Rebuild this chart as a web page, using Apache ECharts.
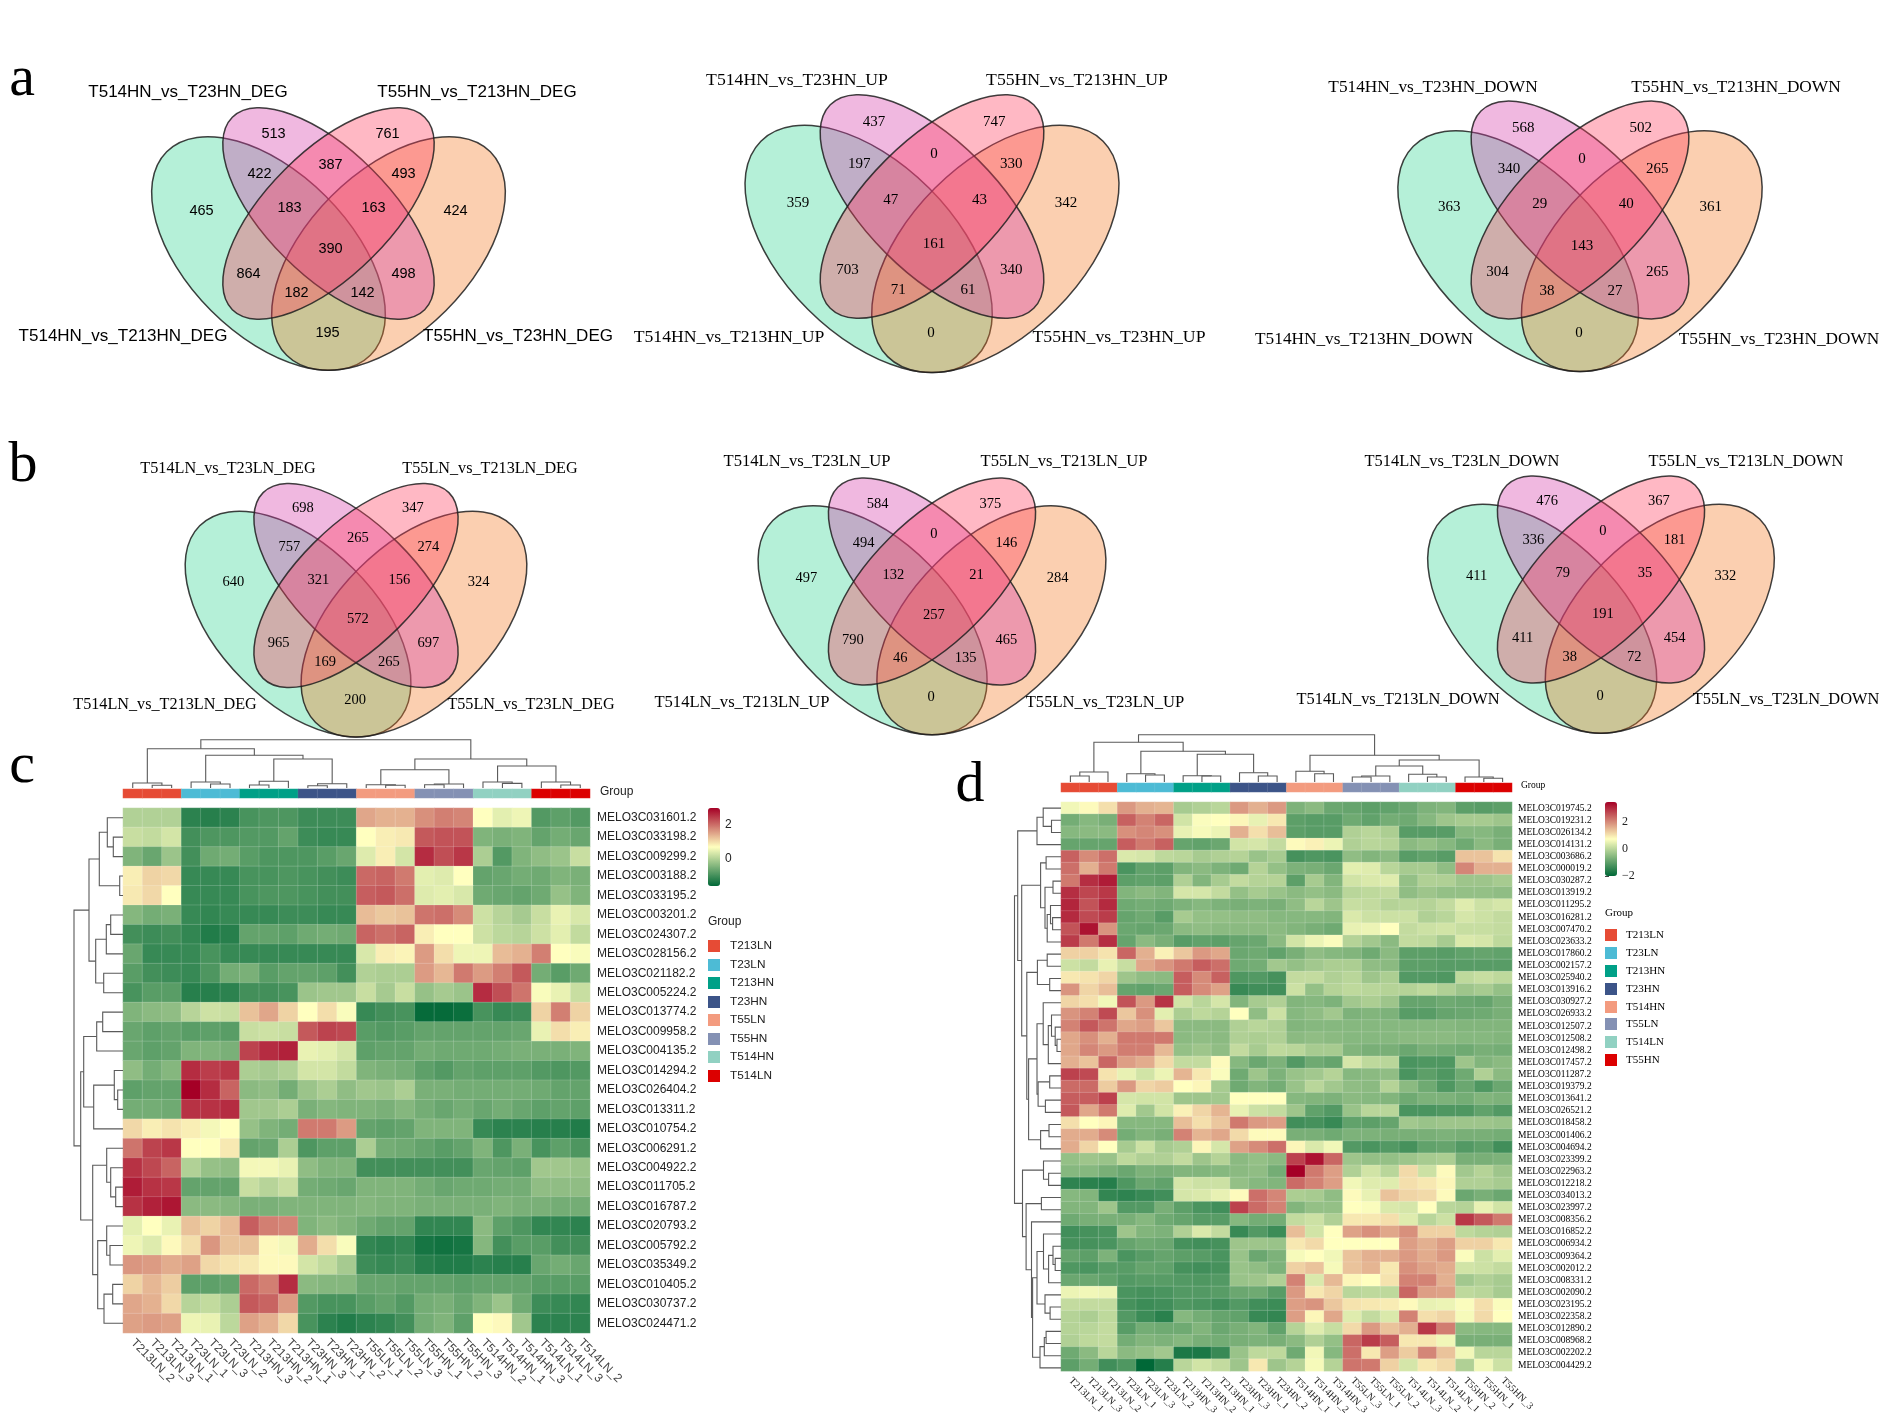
<!DOCTYPE html>
<html><head><meta charset="utf-8">
<script src="https://cdn.jsdelivr.net/npm/echarts@6/dist/echarts.min.js"></script>
<style>html,body{margin:0;padding:0;background:#fff}#c{width:1890px;height:1417px}</style></head>
<body><div id="c"></div>
<script>
// ---------- Venn counts (same region order in each list) ----------
const a1Counts=[465,513,761,424,422,387,493,183,163,390,864,498,182,142,195];
const a2Counts=[359,437,747,342,197,0,330,47,43,161,703,340,71,61,0];
const a3Counts=[363,568,502,361,340,0,265,29,40,143,304,265,38,27,0];
const b1Counts=[640,698,347,324,757,265,274,321,156,572,965,697,169,265,200];
const b2Counts=[497,584,375,284,494,0,146,132,21,257,790,465,46,135,0];
const b3Counts=[411,476,367,332,336,0,181,79,35,191,411,454,38,72,0];
const a1Names=['T514HN_vs_T23HN_DEG','T55HN_vs_T213HN_DEG','T514HN_vs_T213HN_DEG','T55HN_vs_T23HN_DEG'];
const a2Names=['T514HN_vs_T23HN_UP','T55HN_vs_T213HN_UP','T514HN_vs_T213HN_UP','T55HN_vs_T23HN_UP'];
const a3Names=['T514HN_vs_T23HN_DOWN','T55HN_vs_T213HN_DOWN','T514HN_vs_T213HN_DOWN','T55HN_vs_T23HN_DOWN'];
const b1Names=['T514LN_vs_T23LN_DEG','T55LN_vs_T213LN_DEG','T514LN_vs_T213LN_DEG','T55LN_vs_T23LN_DEG'];
const b2Names=['T514LN_vs_T23LN_UP','T55LN_vs_T213LN_UP','T514LN_vs_T213LN_UP','T55LN_vs_T23LN_UP'];
const b3Names=['T514LN_vs_T23LN_DOWN','T55LN_vs_T213LN_DOWN','T514LN_vs_T213LN_DOWN','T55LN_vs_T23LN_DOWN'];

// ---------- Heatmap c ----------
const cGenes=['031601','033198','009299','003188','033195','003201','024307','028156','021182','005224','013774','009958','004135','014294','026404','013311','010754','006291','004922','011705','016787','020793','005792','035349','010405','030737','024471'];
const cSamples=['T213LN_2','T213LN_3','T213LN_1','T23LN_1','T23LN_3','T23LN_2','T213HN_3','T213HN_2','T213HN_1','T23HN_3','T23HN_1','T23HN_2','T55LN_1','T55LN_2','T55LN_3','T55HN_1','T55HN_2','T55HN_3','T514HN_2','T514HN_1','T514HN_3','T514LN_1','T514LN_3','T514LN_2'];
const cGroups=['T213LN','T23LN','T213HN','T23HN','T55LN','T55HN','T514HN','T514LN'];
const cColors=['#E64B35','#4DBBD5','#00A087','#3C5488','#F39B7F','#8491B4','#91D1C2','#DC0000'];
const cMatrix=[
[0,0,0,-1.2,-1.25,-1.2,-.95,-.9,-.9,-1.05,-1.05,-1.05,1.5,1.4,1.4,1.7,1.85,1.8,.7,.45,.55,-.85,-.75,-.85],
[.2,.15,.3,-1,-.9,-.9,-.85,-.85,-.7,-1.05,-1.1,-1.1,.7,.85,.9,2.2,2.25,2.25,-.45,-.5,-.45,-.7,-.55,-.65],
[-.45,-.65,-.2,-1,-.6,-.55,-.8,-.9,-.9,-.9,-.8,-.65,.4,.85,.3,2.6,2.3,2.5,-.05,-.85,-.45,-.3,-.2,.2],
[.85,1.1,1.05,-1.1,-1.1,-1.1,-.95,-.95,-.9,-.95,-1,-1.05,2.05,2.1,1.9,.45,.4,.7,-.7,-.65,-.55,-.6,-.45,-.5],
[.9,1.05,.7,-1.1,-1.1,-1.1,-.95,-.9,-.9,-.95,-1,-1,2.15,2.2,2,.4,.45,.35,-.6,-.65,-.7,-.6,-.25,-.45],
[-.4,-.55,-.5,-1.1,-1.15,-1.1,-1.1,-1.1,-1.05,-1.05,-1.1,-1.1,1.3,1.2,1.25,1.95,2,1.75,.25,.05,-.1,.2,.5,.35],
[-1,-1.05,-1,-1.15,-1.3,-1.25,-.7,-.7,-.75,-.6,-.55,-.6,2.1,2,2.1,.85,.7,.7,.25,.1,.05,.25,.45,.15],
[-.65,-1.1,-1.1,-1.1,-.95,-1.1,-1.1,-1.1,-1.1,-1.1,-1.1,-1.1,.35,.85,.8,1.6,1,.55,.55,1.3,1.4,1.85,.7,.65],
[-.8,-1,-1.05,-1.1,-.9,-.55,-.5,-.8,-.7,-.7,-.75,-1,0,-.05,-.05,1.6,1.35,1.9,1.6,1.85,2.2,-.55,-.8,-.6],
[-.95,-.8,-.8,-1.25,-1.25,-1.2,-1,-1,-.95,-.2,-.15,-.15,.2,-.1,.2,-.25,-.1,-.2,2.6,2.3,1.95,.65,.5,.2],
[-.45,-.35,-.3,.05,.25,.2,1.25,1.5,1.1,.7,1,.65,-1.1,-1,-.95,-1.55,-1.55,-1.5,-.95,-1.1,-1.05,1.1,1.85,1.1],
[-.65,-.75,-.7,-.8,-.75,-.8,.2,.25,.2,2.2,2.4,2.35,-.8,-.85,-.8,-.7,-.7,-.7,-.7,-.7,-.65,.5,1,.85],
[-.65,-.75,-.7,-.45,-.45,-.5,2.4,2.6,2.7,.5,.45,.3,-.75,-.7,-.7,-.55,-.6,-.6,-.6,-.55,-.5,-.5,-.5,-.45],
[-.3,-.55,-.4,2.6,2.45,2.5,-.05,-.1,0,.3,.3,.15,-.45,-.5,-.55,-.75,-.85,-.7,-.75,-.75,-.75,-.85,-.9,-.85],
[-.75,-.7,-.7,3,2.6,2.1,-.35,-.3,-.55,-.2,-.05,-.3,-.15,-.2,-.05,-.5,-.5,-.55,-.55,-.55,-.55,-.6,-.7,-.7],
[-.55,-.55,-.6,2.55,2.55,2.6,-.15,-.15,-.05,-.5,-.4,-.45,-.45,-.5,-.4,-.55,-.65,-.55,-.65,-.55,-.65,-.75,-.7,-.75],
[1.05,.85,.95,.85,.6,.7,-.25,-.45,-.55,1.9,1.9,1.6,-.7,-.75,-.7,-.45,-.45,-.45,-1.1,-1.2,-1.2,-1.25,-1.25,-1.3],
[1.95,2.4,2.5,.7,.7,.9,-.7,-.65,-.05,-.9,-.75,-.75,-.05,-.55,-.6,-.7,-.8,-.7,-.45,-.9,-.5,-.95,-.75,-.9],
[2.55,2.35,2.1,0,-.25,-.3,.6,.6,.5,-.3,-.45,-.45,-1,-1,-1,-1,-1,-1,-.65,-.7,-.75,-.15,-.15,-.2],
[2.75,2.55,2.5,-.7,-.7,-.7,.2,.05,.2,-.55,-.6,-.65,-.45,-.45,-.45,-.55,-.65,-.6,-.6,-.55,-.55,-.3,-.3,-.3],
[2.55,2.7,2.8,-.35,-.35,-.4,-.5,-.5,-.45,-.45,-.45,-.45,-.4,-.45,-.45,-.5,-.5,-.5,-.5,-.45,-.5,-.5,-.55,-.55],
[.45,.7,.5,1.25,1.1,1.3,2.15,1.85,1.8,-.45,-.35,-.45,-.6,-.7,-.7,-1.15,-1.15,-1.15,-.35,-.75,-.9,-1.15,-1.15,-1.2],
[.55,.4,.75,1,1.65,1.25,1.25,.75,.6,1.45,1,.65,-1.15,-1.2,-1.15,-1.4,-1.45,-1.4,-.4,-1,-.8,-.8,-1,-1],
[1.65,1.6,1.45,1.55,1.05,.95,.9,.75,.75,.3,.15,-.1,-1.05,-1.1,-1.05,-1.25,-1.3,-1.3,-1.2,-1.25,-1.25,-.65,-.55,-.65],
[1.1,1.35,1.15,-.75,-.75,-.7,2.05,1.85,2.6,-.35,-.4,-.4,-.65,-.65,-.7,-.7,-.7,-.75,-.7,-.7,-.7,-.8,-.8,-.8],
[1.5,1.4,1.05,.05,.15,-.05,2.2,2.1,1.6,-.85,-.95,-.95,-.8,-.7,-.85,-.55,-.5,-.65,-.45,-.2,-.6,-1.05,-1.1,-1.15],
[1.55,1.6,1.55,.55,.5,.1,1.55,1.4,1.05,-.95,-1.2,-1.3,-1.2,-1.15,-1,-.55,-.45,-.75,.7,.75,-.15,-1.2,-1.2,-1.2]
];
const cTopTree=[48.3,[39.3,[5,0,[2.7,1,2]],[32.7,[6,3,[4,4,5]],[29,[6.7,[3,6,7],8],[4.3,[2.3,9,10],11]]]],[29,[18.3,[3.3,12,[2.7,13,14]],[4,[3.3,15,16],17]],[22,[6,18,[4.6,19,20]],[6,21,[3,22,23]]]]];
const cLeftTree=[49,[34,[23.7,[15.7,0,[9.7,1,2]],[3.3,3,4]],[27.3,[16.7,[12.3,5,6],7],[19.3,8,9]]],[42.3,[39.3,[26.3,[20.3,10,11],12],[29.3,[8.7,13,[5.3,14,15]],16]],[30.3,[16.3,17,[12.3,18,[7.3,19,20]]],[25.3,[16.3,21,[13,22,23]],[19,[10.3,24,25],26]]]]];

// ---------- Heatmap d ----------
const dGenes=['019745','019231','026134','014131','003686','000019','030287','013919','011295','016281','007470','023633','017860','002157','025940','013916','030927','026933','012507','012508','012498','017457','011287','019379','013641','026521','018458','001406','004694','023399','022963','012218','034013','023997','008356','016852','006934','009364','002012','008331','002090','023195','022358','012890','008968','002202','004429'];
const dSamples=['T213LN_1','T213LN_3','T213LN_2','T23LN_1','T23LN_3','T23LN_2','T213HN_3','T213HN_2','T213HN_1','T23HN_3','T23HN_1','T23HN_2','T514HN_1','T514HN_2','T514HN_3','T55LN_3','T55LN_1','T55LN_2','T514LN_3','T514LN_2','T514LN_1','T55HN_2','T55HN_1','T55HN_3'];
const dGroups=['T213LN','T23LN','T213HN','T23HN','T514HN','T55LN','T514LN','T55HN'];
const dMatrix=[
[.6,.8,1.1,1.85,1.6,1.55,-.2,-.1,0,1.85,1.6,1.85,-.65,-.5,-.85,-.9,-1,-.95,-.85,-.65,-.6,-1,-1.05,-1],
[-.75,-.55,-.7,2.45,2.1,2.4,.25,.7,.75,.85,.5,1,-1,-1.05,-1.05,-.8,-.95,-.75,-.8,-.55,-.3,-.2,-.2,-.3],
[-.55,-.5,-.5,1.95,2.05,1.95,.5,.65,.55,1.6,1.1,1.45,-1,-1.05,-1.05,-.1,0,-.15,-1.05,-1.05,-1.05,-.55,-.55,-.7],
[-.9,-.9,-.9,2.5,2.2,2.45,-.9,-.95,-.85,.25,.3,.1,.8,.9,.55,-.1,0,-.05,-.5,-.4,-.55,-.8,-.5,-.7],
[2.45,2,2.3,.35,.3,.05,0,-.2,-.1,-.05,-.35,-.2,-1.25,-1.15,-1.2,-.45,-.6,-.5,-1.05,-.95,-1.05,1.4,1.4,1.05],
[2.3,1.6,2.2,-1.2,-.95,-1,-.6,-.5,-.65,-.8,-.05,-.4,-.65,-.7,-.85,.45,.4,0,-.2,-.2,-.45,2.05,1.6,1.6],
[2.2,3,3.2,-1,-.95,-1,-.1,-.6,-.2,.1,-.05,-.05,-1,-.2,-.6,.25,.35,.4,-.4,-.1,-.1,-.3,-.3,-.2],
[3,2.75,2.9,-.6,-.5,-.6,.3,.3,.1,-.4,-.2,-.35,-.5,-.4,-.5,0,.05,.1,-.45,-.3,-.4,-.4,-.4,-.45],
[3.1,2.6,3.05,-.8,-.75,-.8,-.65,-.55,-.65,-.7,-.65,-.7,-.45,0,-.3,.15,.1,-.05,0,-.05,.1,.4,.2,.3],
[3.05,2.7,2.85,-.9,-.8,-1.05,-.2,-.4,-.4,-.45,-.45,-.55,-.55,-.55,-.6,.35,.2,.2,.2,-.1,0,.3,.2,.1],
[2.6,3.3,1.9,-.85,-.9,-.85,-.5,-.45,-.5,-.5,-.5,-.5,-.6,-.7,-.8,.5,.55,.75,.1,.2,.25,.15,.15,.1],
[2.85,2.2,3,-.9,-.5,-.7,-1.05,-.95,-1,-.9,-.85,-.5,.25,.55,.7,-.05,-.25,-.5,.1,.05,-.2,.35,.3,.05],
[1.25,1.25,1.05,2.4,1.6,.9,1.35,1.85,1.7,-.85,-.8,-.95,-.7,-.45,-.55,-.6,-.8,-.5,-1,-1,-1.05,-.95,-.9,-.95],
[.2,.1,.5,.15,1.7,1.9,2.2,2.5,2.3,-.8,-.75,-.25,-.4,-.25,-.15,-.15,-.45,-.5,-1,-1,-1.05,-1.05,-1.05,-1.05],
[1,1.05,1.2,-.3,-.45,-.5,2.5,2,2.45,-1.15,-1.1,-1.25,.1,.1,-.1,0,-.3,-.15,-1.1,-1.1,-1.15,.05,.15,.05],
[1.9,1.2,1.45,-.9,-.95,-.85,2.5,2,1.75,-1.4,-1.3,-1.3,.2,-.4,-.05,.05,0,-.05,-.05,.05,-.1,-.3,-.2,-.4],
[1.2,1.1,.6,2.6,1.85,2.95,.25,0,.3,-.6,-.2,-.1,-.6,-.55,-.65,-.25,-.15,-.3,-.9,-.9,-.8,-.85,-.9,-.7],
[1.9,2.1,2.7,1.35,1.95,.45,-.15,.05,-.05,.75,-.45,.2,-.55,-.45,-.25,-.65,-.6,-.65,-1.05,-1.05,-.9,-.85,-.8,-.7],
[2.1,2.55,2.25,1.7,1.8,1.35,-.5,-.5,-.5,-.1,0,-.1,-.6,-.55,-.55,-.55,-.55,-.55,-.55,-.55,-.55,-.6,-.6,-.6],
[1.7,1.95,1.6,2.2,2.2,2.2,-.5,-.45,-.5,-.1,-.15,-.1,-.5,-.45,-.5,-.55,-.55,-.55,-.5,-.5,-.5,-.55,-.55,-.6],
[1.7,2.05,1.85,2.15,2.15,1.5,-.4,-.3,-.45,.1,-.2,.05,0,-.2,-.2,-.6,-.7,-.7,-.85,-.7,-.75,-.8,-.7,-.75],
[1.6,1.4,2.4,1.8,1.65,1.15,.1,.1,.8,-.55,-.85,-.65,-1.1,-.8,-.9,.3,.05,0,-1.2,-1.15,-1.15,-.3,-.6,-.5],
[2.8,2.7,1.05,.5,.25,.55,1.55,1,.7,-.8,-.3,-.65,-.35,-.25,-.05,-.55,-.5,-.45,-1.2,-1,-1.15,-.8,-.1,-.5],
[2.35,2.35,1.3,1.85,1.2,1.3,.75,.85,-.2,-.8,-.6,-.75,-.35,0,-.25,-.45,-.5,-.05,-.5,-.8,-1.15,-.85,-1.15,-.85],
[2.5,2.5,2.8,.3,.25,.25,-.3,-.3,-.25,.75,.75,.75,-.55,-.6,-.65,-.5,-.55,-.6,-.8,-.65,-.65,-.75,-.6,-.65],
[2.55,1.7,2.2,.4,-.25,.25,.9,1.2,1.55,.5,.2,.1,-.3,-.95,-1.1,-.35,0,0,-1.2,-1.2,-1.15,-1.15,-.95,-1.1],
[1.1,.75,.85,-.55,-.55,-.55,1.45,1.1,1.35,2.2,1.85,1.8,-1.3,-1.25,-1.4,-.95,-1,-.9,-.25,-.35,-.3,-.3,-.3,-.35],
[1.65,1.65,2,-.75,-.6,-.7,2.1,1.55,1.7,1.15,.8,.8,-.7,-.7,-.8,-.65,-.65,-.7,-.7,-.7,-.65,-.7,-.7,-.75],
[1.65,1.2,.75,-.2,.2,-.2,-.1,.85,.3,1.75,2,2.3,.85,.35,.6,-1.1,-1.2,-1.1,-1.25,-.95,-.9,-1.1,-1,-1.3],
[-.4,-.3,-.35,.05,-.1,-.1,.1,-.3,-.05,-.5,-.4,-.5,2.8,3.3,2.4,-.3,-.4,-.4,-.3,-.2,-.15,-.7,-.7,-.65],
[-.55,-.55,-.7,-.85,-.65,-.7,-.6,-.6,-.55,-.5,-.45,-.75,3.5,2.2,1.8,-.1,.25,0,1.15,.2,.8,-.25,-.05,-.3],
[-1.5,-1.55,-1.6,-1.15,-.85,-.95,.3,.2,.2,-.4,-.55,-.6,2.35,2.1,1.8,.6,.4,.4,1.1,1,.85,-.1,-.1,-.2],
[-.55,-.6,-1.45,-1.5,-1.4,-1.3,.3,.35,.5,.8,2.3,2.05,-.15,-.2,-.45,.8,.5,1.4,1.2,1.15,.8,-.85,-.7,-.85],
[-.6,-.6,-.3,-1.1,-1.1,-.7,-1,-1.2,-1.3,2.8,2.35,2.1,-.6,-.4,-.4,.75,.7,.35,.3,.75,0,-.05,.5,.25],
[-.8,-.7,-.7,-.7,-.55,-.8,-.9,-1.05,-1.05,-.55,-.75,-.75,.1,.2,-.1,1,1,1.1,.4,0,.2,2.9,2.55,2.2],
[-1.3,-1.25,-1.2,-.3,-.6,-.65,-.1,.35,.1,-1.4,-1.1,-1.35,1.45,.25,.75,1.75,1.95,1.7,1.95,1.25,1.25,.05,-.05,-.1],
[-1.25,-1.25,-1.2,-.9,-.8,-.85,-1.25,-1.3,-1.25,-.3,-.3,-.35,1,1.15,.75,.75,.75,.75,1.8,1.6,1.8,1.25,1.25,1],
[-.9,-1,-.65,-1.2,-1.05,-.9,-1,-1.05,-1.2,-.35,-.85,-.65,.65,.75,.6,1.4,1.6,1.6,1.85,1.65,1.85,.7,.2,.45],
[-1.15,-1.2,-1.05,-1.05,-.9,-.95,-1.25,-1.3,-1.25,-.35,-.45,-.65,1.25,1.4,.65,1.4,1.55,1,1.95,1.75,1.65,.25,.2,.1],
[-.85,-.85,-.95,-1.1,-1.05,-1.05,-1.1,-1.15,-1.1,-.35,-.3,-.1,2.1,.35,1.5,.85,.75,1.05,2.1,2.1,1.6,-.25,-.1,-.2],
[.55,.6,.55,-1.2,-1.25,-1.2,-1.1,-1.1,-1.05,-.85,-.8,-1.05,1.85,1,1.2,0,.05,.05,2.4,1.8,1.75,.05,0,-.2],
[.1,.1,.1,-1.25,-1.35,-1.3,-1.15,-1.2,-1.3,-1.1,-1.3,-1.35,1.8,1.9,1.35,1.05,1,.95,.8,.5,.55,.7,1.1,.7],
[-.05,-.15,.05,-1.1,-1.35,-1.55,-.55,-.75,-.9,-.95,-1.4,-1.45,1.8,.85,1.7,.4,.1,.35,2.1,1.1,1.2,.65,1.15,.75],
[-.05,0,.1,-1.05,-.75,-.8,-.8,-.6,-.85,-.7,-.6,-.95,-.05,.4,.15,1.15,1.85,1.4,1.6,2.9,2.15,-.5,-.55,-.55],
[-.1,.05,.1,-.75,-.6,-.65,-.55,-.7,-.75,-.7,-.65,-.7,-.5,-.1,-.4,2.4,2.85,2.5,1,1,.6,-.7,-.7,-.7],
[-.8,-.5,0,-.5,-.4,-.25,-1.7,-1.7,-1.4,-.35,.05,.05,-.8,.6,-.55,2.3,1,1.8,1.3,2.05,1.4,.6,0,0],
[-1,-.75,-1.3,-1.15,-2,-1.6,0,.25,.1,-.3,1,-.3,-.05,.65,-.05,2.25,2.2,1.25,.3,1,1.15,-.1,.6,.2]
];
const dTopTree=[47.3,[39.7,[10,[6,0,1],2],[30.7,[8.3,3,[7,4,5]],[27.7,[6.3,6,[6,7,8]],[9.3,9,[6,10,11]]]]],[26.7,[10.7,12,[8.3,13,14]],[22,[16,[6,[5,15,16],17],[7.7,18,[5,19,20]]],[5,21,[3.7,22,23]]]]];
const dLeftTree=[46.5,[43.3,[24,[17.8,0,[9.5,1,2]],3],[39.3,[20.4,[14.9,4,5],[16,[8,6,7],[13.8,[10.5,8,[8.4,9,10]],11]]],[34.2,[23.6,[13.8,12,13],[11.3,14,15]],[32.4,[24,[17.8,16,[12.7,[9.5,17,[5.8,18,[4,19,20]]],21]],[22.9,[11.3,22,23],[15.6,24,25]]],[20.4,[12,26,27],28]]]]],[38.5,[17.5,29,[12.4,30,31]],[34.9,[19.6,32,33],[29.5,34,[28.4,[24,[17.5,35,[12.4,[8,36,[5.8,37,38]],39]],[16,40,[10.9,41,42]]],[21,[16.7,[14.9,43,44],45],46]]]]]];

// ---------- Layout (page pixels) ----------
const SANS='"Liberation Sans",Arial,sans-serif', SERIF='"Liberation Serif","Times New Roman",serif';
const ramp=['#006837','#FFFFBF','#A50026'];
const regionOffsets=[[-127,-3],[-55,-80],[59,-80],[127,-3],[-69,-40],[2,-49],[75,-40],[-39,-6],[45,-6],[2,35],[-80,60],[75,60],[-32,79],[34,79],[-1,119]];
const venns=[
 {cx:328.5,cy:213.5,sx:1,sy:1,counts:a1Counts,names:a1Names,font:SANS,title:17,num:14.5,pos:[[188,92],[477,92],[123,336],[518,336]]},
 {cx:932,cy:206.5,sx:1.056,sy:1.06,counts:a2Counts,names:a2Names,font:SERIF,title:17.7,num:15,pos:[[797,80],[1077,80],[729,337],[1119,337]]},
 {cx:1580,cy:210,sx:1.03,sy:1.03,counts:a3Counts,names:a3Names,font:SERIF,title:17.3,num:15,pos:[[1433,87],[1736,87],[1364,339],[1779,339]]},
 {cx:356,cy:585.5,sx:.966,sy:.966,counts:b1Counts,names:b1Names,font:SERIF,title:16.2,num:14.5,pos:[[228,469],[490,469],[165,705],[531,705]]},
 {cx:932,cy:581.5,sx:.99,sy:.97,counts:b2Counts,names:b2Names,font:SERIF,title:16.6,num:14.5,pos:[[807,462],[1064,462],[742,703],[1105,703]]},
 {cx:1601,cy:579.5,sx:.98,sy:.98,counts:b3Counts,names:b3Names,font:SERIF,title:16.4,num:14.5,pos:[[1462,462],[1746,462],[1398,700],[1786,700]]}
];
const ellipses=[
 {dx:-60,dy:40,a:144,b:81,rot:-Math.PI/4,fill:'rgba(49,213,147,.36)'},
 {dx:60,dy:40,a:144,b:81,rot:Math.PI/4,fill:'rgba(244,122,36,.36)'},
 {dx:0,dy:0,a:136,b:62,rot:-Math.PI/4,fill:'rgba(213,58,169,.36)'},
 {dx:0,dy:0,a:136,b:62,rot:Math.PI/4,fill:'rgba(255,58,91,.36)'}
];
const texts=[];
const T=(text,x,y,size,font,align,color)=>texts.push({text,x,y,size,font,align:align||'center',color:color||'#000'});
venns.forEach(v=>{
 v.names.forEach((n,i)=>T(n,v.pos[i][0],v.pos[i][1],v.title,v.font));
 v.counts.forEach((c,i)=>T(String(c),v.cx+regionOffsets[i][0]*v.sx,v.cy+regionOffsets[i][1]*v.sy,v.num,v.font));
});
T('a',22,80,58,SERIF);T('b',23,466,58,SERIF);T('c',22,767,58,SERIF);T('d',970,786,58,SERIF);
T('Group',600,792,12,SANS,'left','#222');
T('Group',708,922,12,SANS,'left','#222');
T('Group',1521,785,9.5,SERIF,'left');
T('Group',1605,913,11,SERIF,'left');
const cLegendY=[946,965,983,1002,1020,1039,1057,1076], dLegendY=[935,953,971,989,1007,1024,1042,1060];
const swatches=[];
cGroups.forEach((g,i)=>{swatches.push({x:708,y:cLegendY[i]-6,c:cColors[i]});T(g,730,cLegendY[i],11.8,SANS,'left','#222');});
dGroups.forEach((g,i)=>{swatches.push({x:1605,y:dLegendY[i]-6,c:cColors[i]});T(g,1626,dLegendY[i],11,SERIF,'left');});

// ---------- Option assembly ----------
const grids=[],xAxes=[],yAxes=[],series=[],vms=[];
function addGrid(left,top,width,height,x,y){
 grids.push({left,top,width,height,containLabel:false});
 const i=grids.length-1;
 xAxes.push(Object.assign({gridIndex:i,show:false},x));
 yAxes.push(Object.assign({gridIndex:i,show:false},y));
 return i;
}
// page grid
const P=addGrid(0,0,1890,1417,{type:'value',min:0,max:1890},{type:'value',min:0,max:1417,inverse:true});
const ellData=[];venns.forEach((v,vi)=>ellipses.forEach((e,ei)=>ellData.push([vi,ei])));
series.push({type:'custom',xAxisIndex:P,yAxisIndex:P,silent:true,z:1,clip:false,data:ellData,encode:{x:0,y:1},
 renderItem(p,api){const v=venns[api.value(0)],e=ellipses[api.value(1)];
  const c=api.coord([v.cx+e.dx*v.sx,v.cy+e.dy*v.sy]);
  const s=(v.sx+v.sy)/2;
  return {type:'ellipse',x:c[0],y:c[1],rotation:e.rot,shape:{cx:0,cy:0,rx:e.a*s,ry:e.b*s},style:{fill:e.fill,stroke:'rgba(30,30,30,.85)',lineWidth:1.5}};
 }});
series.push({type:'custom',xAxisIndex:P,yAxisIndex:P,silent:true,z:2,clip:false,data:swatches.map(s=>[s.x,s.y]),
 renderItem(p,api){const c=api.coord([api.value(0),api.value(1)]);
  return {type:'rect',shape:{x:c[0],y:c[1],width:12,height:12},style:{fill:swatches[p.dataIndex].c}};
 }});
series.push({type:'custom',xAxisIndex:P,yAxisIndex:P,silent:true,z:5,clip:false,data:texts.map(t=>[t.x,t.y]),
 renderItem(p,api){const t=texts[p.dataIndex],c=api.coord([api.value(0),api.value(1)]);
  return {type:'text',x:c[0],y:c[1],style:{text:t.text,fontSize:t.size,fontFamily:t.font,fill:t.color,align:t.align,verticalAlign:'middle'}};
 }});

function treeSegments(tree){
 const segs=[];
 (function walk(n){
  if(typeof n==='number')return {pos:n+.5,h:0};
  const l=walk(n[1]),r=walk(n[2]);
  segs.push([l.pos,l.h,r.pos,r.h,n[0]]);
  return {pos:(l.pos+r.pos)/2,h:n[0]};
 })(tree);
 return segs;
}
function addTree(g,tree,horizontal){
 series.push({type:'custom',xAxisIndex:g,yAxisIndex:g,silent:true,clip:false,data:treeSegments(tree),z:3,
  dimensions:['a','ha','b','hb','h'],encode:{x:horizontal?4:0,y:horizontal?0:4},
  renderItem(p,api){
   const a=api.value(0),ha=api.value(1),b=api.value(2),hb=api.value(3),h=api.value(4);
   const f=horizontal?((pos,ht)=>api.coord([ht,pos])):((pos,ht)=>api.coord([pos,ht]));
   return {type:'polyline',shape:{points:[f(a,ha),f(a,h),f(b,h),f(b,hb)]},style:{fill:null,stroke:'#5a5a5a',lineWidth:1.1}};
  }});
}
function addHeat(o){
 const cols=o.samples.length,rows=o.genes.length;
 const H=addGrid(o.x,o.y,o.w,o.h,
  {type:'category',data:o.samples,show:true,position:'bottom',axisLine:{show:false},axisTick:{show:false},splitLine:{show:false},
   axisLabel:{interval:0,rotate:-45,fontFamily:o.font,fontSize:o.colSize,color:o.colColor,margin:o.colMargin,hideOverlap:false}},
  {type:'category',data:o.genes.map(g=>'MELO3C'+g+'.2'),show:true,inverse:true,position:'right',axisLine:{show:false},axisTick:{show:false},splitLine:{show:false},
   axisLabel:{interval:0,fontFamily:o.font,fontSize:o.rowSize,color:o.rowColor,margin:o.rowMargin,hideOverlap:false,padding:o.rowPad}});
 const data=[];o.matrix.forEach((r,j)=>r.forEach((v,i)=>data.push([i,j,v])));
 const si=series.length;
 series.push({type:'heatmap',xAxisIndex:H,yAxisIndex:H,data,silent:true,progressive:0,itemStyle:{borderWidth:.6,borderColor:'rgba(255,255,255,.28)'},emphasis:{disabled:true}});
 vms.push({type:'continuous',seriesIndex:si,min:o.min,max:o.max,inRange:{color:ramp},show:true,left:o.barX,top:o.y+o.barDY,itemWidth:12,itemHeight:o.barH,padding:0,text:null,calculable:false,hoverLink:false,silent:true});
 // annotation strip
 const A=addGrid(o.x,o.annY,o.w,o.annH,{type:'category',data:o.samples},{type:'category',data:['Group']});
 series.push({type:'heatmap',xAxisIndex:A,yAxisIndex:A,silent:true,emphasis:{disabled:true},progressive:0,
  data:o.samples.map((s,i)=>({value:[i,0,Math.floor(i/3)],itemStyle:{color:cColors[Math.floor(i/3)],borderWidth:.5,borderColor:'rgba(255,255,255,.18)'}}))});
 vms.push({type:'piecewise',seriesIndex:series.length-1,show:false,categories:null,pieces:cColors.map((c,i)=>({value:i,color:c}))});
 // dendrograms
 const Top=addGrid(o.x,o.annY-1-50,o.w,50,{type:'value',min:0,max:cols},{type:'value',min:0,max:50});
 addTree(Top,o.topTree,false);
 const Left=addGrid(o.x-50,o.y,50,o.h,{type:'value',min:0,max:50,inverse:true},{type:'value',min:0,max:rows,inverse:true});
 addTree(Left,o.leftTree,true);
 // colour-bar axis
 const B=addGrid(o.barX,o.y+o.barDY,12,o.barH,{type:'value',min:0,max:1},
  {type:'value',show:true,min:o.min,max:o.max,position:'right',axisLine:{show:false},splitLine:{show:false},
   axisTick:{show:true,length:4,inside:false,lineStyle:{color:'#444',width:1},customValues:o.barTicks},
   axisLabel:{show:true,customValues:o.barTicks,fontFamily:o.font,fontSize:o.barFont,color:'#222',margin:5,showMinLabel:true,showMaxLabel:true,formatter:v=>String(v).replace('-','\u2212')}});
}
addHeat({samples:cSamples,genes:cGenes,matrix:cMatrix,x:123,y:808,w:467,h:525,annY:789,annH:9,font:SANS,colSize:12,colColor:'#444',colMargin:8,rowSize:12,rowColor:'#222',rowMargin:7,rowPad:[2,0,0,0],min:-1.6,max:3,barX:708,barDY:0,barH:78,barTicks:[0,2],barFont:12,topTree:cTopTree,leftTree:cLeftTree});
addHeat({samples:dSamples,genes:dGenes,matrix:dMatrix,x:1061,y:802,w:451,h:572,annY:783,annH:9,font:SERIF,colSize:10,colColor:'#222',colMargin:8,rowSize:9.5,rowColor:'#000',rowMargin:6,rowPad:[0,0,0,0],min:-2,max:3.5,barX:1605,barDY:0,barH:74,barTicks:[-2,0,2],barFont:12,topTree:dTopTree,leftTree:dLeftTree});

const chart=echarts.init(document.getElementById('c'),null,{width:1890,height:1417});
chart.setOption({animation:false,backgroundColor:'#fff',grid:grids,xAxis:xAxes,yAxis:yAxes,visualMap:vms,series});
</script></body></html>
